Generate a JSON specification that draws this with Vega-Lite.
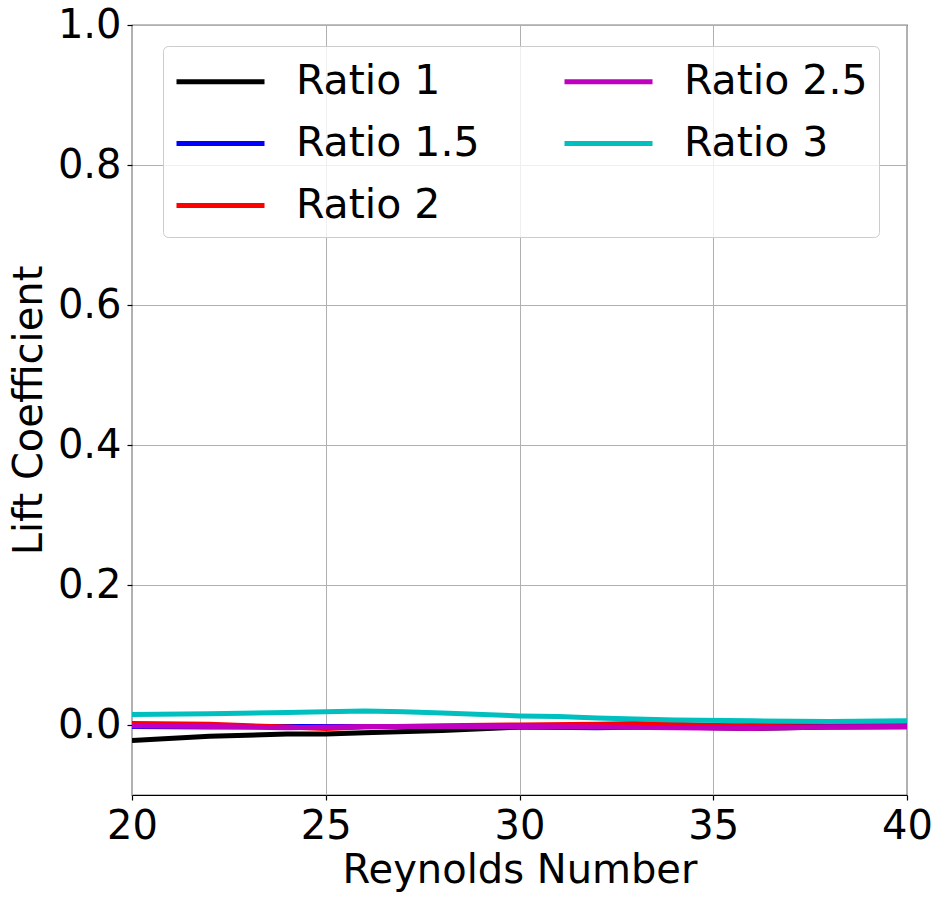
{
  "$schema": "https://vega.github.io/schema/vega-lite/v6.json",
  "width": 775,
  "height": 770,
  "autosize": "none",
  "padding": {"left": 132, "top": 25, "right": 36, "bottom": 105},
  "background": "white",
  "config": {
    "font": "DejaVu Sans",
    "view": {"stroke": "black", "strokeWidth": 1.2},
    "axis": {
      "labelFont": "DejaVu Sans",
      "titleFont": "DejaVu Sans",
      "labelFontSize": 40,
      "titleFontSize": 40,
      "titleFontWeight": "normal",
      "labelColor": "black",
      "titleColor": "black",
      "tickColor": "black",
      "tickSize": 5,
      "tickWidth": 1.2,
      "domain": false,
      "gridColor": "#b0b0b0",
      "gridWidth": 1,
      "gridOpacity": 1
    }
  },
  "data": {
    "values": [
      {"re": 20, "ratio": "Ratio 1", "cl": -0.022},
      {"re": 22, "ratio": "Ratio 1", "cl": -0.016},
      {"re": 24, "ratio": "Ratio 1", "cl": -0.013},
      {"re": 25, "ratio": "Ratio 1", "cl": -0.013},
      {"re": 26, "ratio": "Ratio 1", "cl": -0.011},
      {"re": 28, "ratio": "Ratio 1", "cl": -0.008},
      {"re": 30, "ratio": "Ratio 1", "cl": -0.003},
      {"re": 32, "ratio": "Ratio 1", "cl": -0.002},
      {"re": 34, "ratio": "Ratio 1", "cl": -0.003},
      {"re": 36, "ratio": "Ratio 1", "cl": -0.005},
      {"re": 38, "ratio": "Ratio 1", "cl": -0.003},
      {"re": 40, "ratio": "Ratio 1", "cl": -0.002},
      {"re": 20, "ratio": "Ratio 1.5", "cl": -0.002},
      {"re": 22, "ratio": "Ratio 1.5", "cl": -0.003},
      {"re": 24, "ratio": "Ratio 1.5", "cl": -0.002},
      {"re": 26, "ratio": "Ratio 1.5", "cl": -0.002},
      {"re": 28, "ratio": "Ratio 1.5", "cl": -0.002},
      {"re": 30, "ratio": "Ratio 1.5", "cl": -0.003},
      {"re": 32, "ratio": "Ratio 1.5", "cl": -0.004},
      {"re": 34, "ratio": "Ratio 1.5", "cl": -0.002},
      {"re": 36, "ratio": "Ratio 1.5", "cl": -0.001},
      {"re": 38, "ratio": "Ratio 1.5", "cl": -0.001},
      {"re": 40, "ratio": "Ratio 1.5", "cl": -0.001},
      {"re": 20, "ratio": "Ratio 2", "cl": 0.002},
      {"re": 22, "ratio": "Ratio 2", "cl": 0.001},
      {"re": 24, "ratio": "Ratio 2", "cl": -0.003},
      {"re": 25, "ratio": "Ratio 2", "cl": -0.005},
      {"re": 26, "ratio": "Ratio 2", "cl": -0.003},
      {"re": 28, "ratio": "Ratio 2", "cl": -0.001},
      {"re": 30, "ratio": "Ratio 2", "cl": 0.0},
      {"re": 32, "ratio": "Ratio 2", "cl": 0.001},
      {"re": 33, "ratio": "Ratio 2", "cl": 0.002},
      {"re": 34, "ratio": "Ratio 2", "cl": 0.001},
      {"re": 36, "ratio": "Ratio 2", "cl": -0.002},
      {"re": 38, "ratio": "Ratio 2", "cl": -0.003},
      {"re": 40, "ratio": "Ratio 2", "cl": -0.003},
      {"re": 20, "ratio": "Ratio 2.5", "cl": -0.001},
      {"re": 22, "ratio": "Ratio 2.5", "cl": -0.002},
      {"re": 24, "ratio": "Ratio 2.5", "cl": -0.004},
      {"re": 26, "ratio": "Ratio 2.5", "cl": -0.002},
      {"re": 28, "ratio": "Ratio 2.5", "cl": -0.002},
      {"re": 30, "ratio": "Ratio 2.5", "cl": -0.002},
      {"re": 32, "ratio": "Ratio 2.5", "cl": -0.003},
      {"re": 34, "ratio": "Ratio 2.5", "cl": -0.004},
      {"re": 36, "ratio": "Ratio 2.5", "cl": -0.005},
      {"re": 38, "ratio": "Ratio 2.5", "cl": -0.003},
      {"re": 40, "ratio": "Ratio 2.5", "cl": -0.002},
      {"re": 20, "ratio": "Ratio 3", "cl": 0.015},
      {"re": 22, "ratio": "Ratio 3", "cl": 0.016},
      {"re": 24, "ratio": "Ratio 3", "cl": 0.018},
      {"re": 26, "ratio": "Ratio 3", "cl": 0.020},
      {"re": 27, "ratio": "Ratio 3", "cl": 0.019},
      {"re": 28, "ratio": "Ratio 3", "cl": 0.017},
      {"re": 30, "ratio": "Ratio 3", "cl": 0.013},
      {"re": 31, "ratio": "Ratio 3", "cl": 0.012},
      {"re": 32, "ratio": "Ratio 3", "cl": 0.010},
      {"re": 34, "ratio": "Ratio 3", "cl": 0.007},
      {"re": 36, "ratio": "Ratio 3", "cl": 0.006},
      {"re": 38, "ratio": "Ratio 3", "cl": 0.005},
      {"re": 40, "ratio": "Ratio 3", "cl": 0.006}
    ]
  },
  "mark": {"type": "line", "strokeWidth": 5, "clip": true},
  "encoding": {
    "x": {
      "field": "re",
      "type": "quantitative",
      "scale": {"domain": [20, 40], "nice": false, "zero": false},
      "axis": {"values": [20, 25, 30, 35, 40], "title": "Reynolds Number", "labelPadding": 6, "titlePadding": 4, "labelFlush": false}
    },
    "y": {
      "field": "cl",
      "type": "quantitative",
      "scale": {"domain": [-0.1, 1.0], "nice": false, "zero": false},
      "axis": {"values": [0, 0.2, 0.4, 0.6, 0.8, 1.0], "format": ".1f", "title": "Lift Coefficient", "labelPadding": 6, "titlePadding": 8, "labelFlush": false}
    },
    "color": {
      "field": "ratio",
      "type": "nominal",
      "scale": {
        "domain": ["Ratio 1", "Ratio 1.5", "Ratio 2", "Ratio 2.5", "Ratio 3"],
        "range": ["#000000", "#0000ff", "#ff0000", "#bf00bf", "#00bfbf"]
      },
      "legend": {
        "title": null,
        "orient": "none",
        "legendX": 31,
        "legendY": 21,
        "columns": 2,
        "columnPadding": 74,
        "rowPadding": 17,
        "padding": 11,
        "symbolType": "M-1,0H3",
        "symbolSize": 1936,
        "symbolStrokeWidth": 5,
        "symbolFillColor": "transparent",
        "labelFontSize": 41,
        "labelFont": "DejaVu Sans",
        "labelColor": "black",
        "labelOffset": 73,
        "labelLimit": 400,
        "fillColor": "rgba(255,255,255,0.8)",
        "strokeColor": "#cccccc",
        "cornerRadius": 5
      }
    }
  }
}
